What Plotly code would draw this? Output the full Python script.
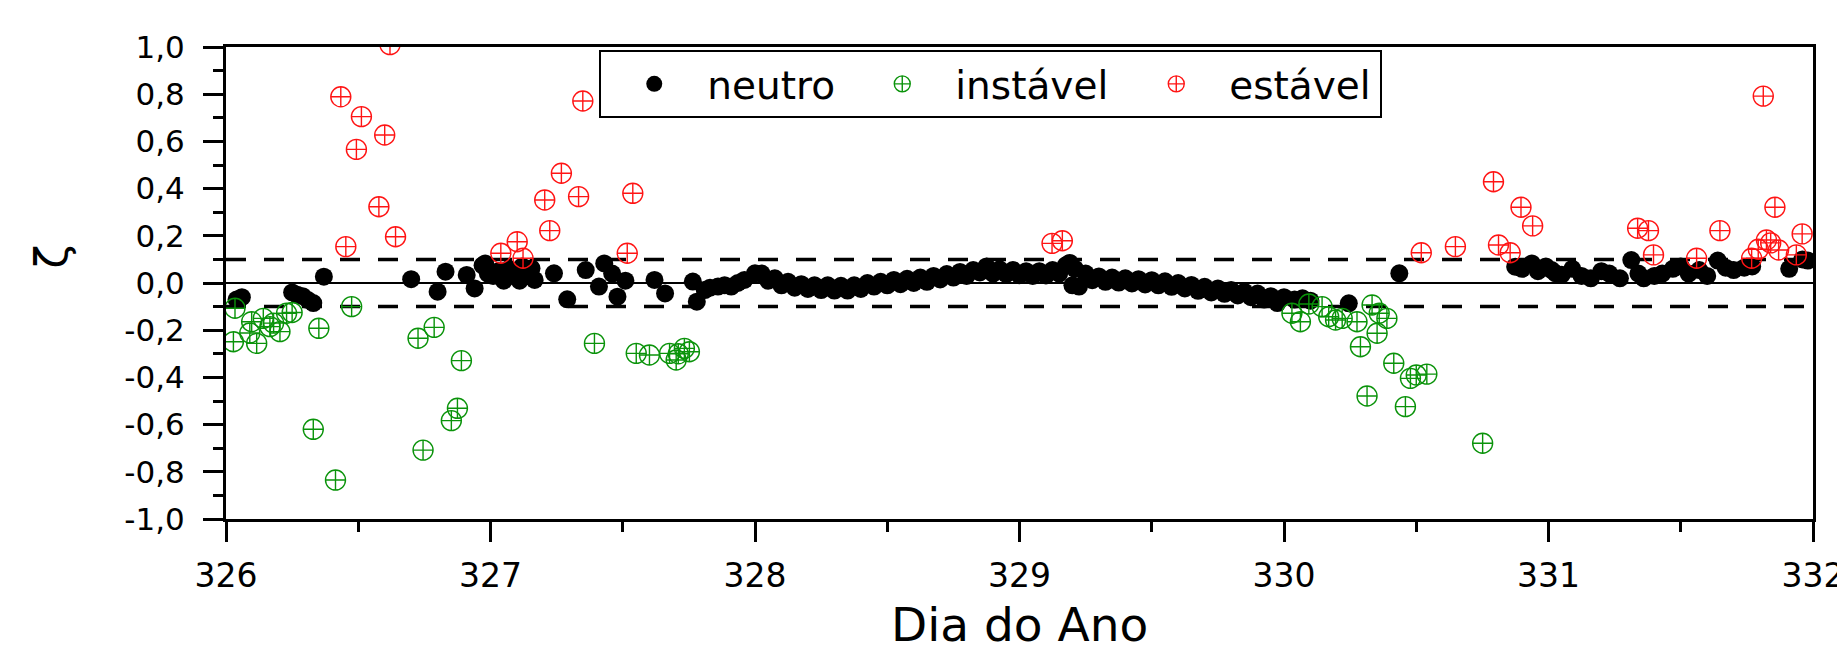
import plotly.graph_objects as go

# ---------------- data ----------------
neutro_x = [
    326.04, 326.06, 326.25, 326.27, 326.29, 326.31, 326.33, 326.37, 326.70, 326.80,
    326.83, 326.91, 326.94, 326.97, 326.98, 326.99, 327.01, 327.03, 327.05, 327.07,
    327.09, 327.11, 327.12, 327.14, 327.155, 327.167, 327.24, 327.29, 327.36, 327.41,
    327.43, 327.46, 327.48, 327.51, 327.62, 327.66, 327.765, 327.78, 327.81, 327.83,
    327.86, 327.885, 327.91, 327.935, 327.96, 328.00,
    328.025, 328.05, 328.075, 328.10, 328.125, 328.15, 328.175, 328.20, 328.225, 328.25,
    328.275, 328.30, 328.325, 328.35, 328.375, 328.40, 328.425, 328.45, 328.475, 328.50,
    328.525, 328.55, 328.575, 328.60, 328.625, 328.65, 328.675, 328.70, 328.725, 328.75,
    328.775, 328.80, 328.825, 328.85, 328.875, 328.90, 328.925, 328.95, 328.975, 329.00,
    329.025, 329.05, 329.075, 329.10, 329.125, 329.15, 329.175, 329.19, 329.20, 329.21,
    329.225, 329.25, 329.275, 329.30, 329.325, 329.35, 329.375, 329.40, 329.425, 329.45,
    329.475, 329.50, 329.525, 329.55, 329.575, 329.60, 329.625, 329.65, 329.675, 329.70,
    329.725, 329.75, 329.775, 329.80, 329.825, 329.85, 329.875, 329.90, 329.925, 329.95,
    329.975, 330.00,
    330.04, 330.07, 330.10, 330.245, 330.436, 330.874, 330.90, 330.937, 330.96, 330.99,
    331.012, 331.027, 331.05, 331.09, 331.125, 331.16, 331.20, 331.23, 331.27, 331.313,
    331.34, 331.36, 331.40, 331.43, 331.47, 331.50, 331.53, 331.57, 331.60, 331.64,
    331.67, 331.70, 331.74, 331.77, 331.91, 331.96, 331.98,
]
neutro_y = [
    -0.07, -0.06, -0.04, -0.05, -0.056, -0.072, -0.085, 0.027, 0.016, -0.037,
    0.048, 0.034, -0.023, 0.075, 0.083, 0.04, 0.03, 0.05, 0.01, 0.06,
    0.03, 0.01, 0.07, 0.03, 0.062, 0.013, 0.041, -0.069, 0.055, -0.015,
    0.083, 0.04, -0.058, 0.01, 0.013, -0.044, 0.006, -0.079, -0.03, -0.02,
    -0.015, -0.01, -0.015, 0.0, 0.013, 0.041,
    0.04, 0.01, 0.02, -0.01, 0.005, -0.02, -0.005, -0.025, -0.01, -0.03,
    -0.01, -0.032, -0.012, -0.032, -0.01, -0.025, 0.0, -0.015, 0.005, -0.01,
    0.013, -0.005, 0.018, 0.0, 0.023, 0.005, 0.03, 0.015, 0.038, 0.023,
    0.047, 0.03, 0.055, 0.045, 0.07, 0.04, 0.058, 0.038, 0.055, 0.033,
    0.05, 0.03, 0.05, 0.032, 0.055, 0.04, 0.075, 0.085, -0.01, 0.06,
    -0.015, 0.04, 0.012, 0.028, 0.005, 0.023, 0.002, 0.02, -0.002, 0.016,
    -0.006, 0.012, -0.01, 0.007, -0.016, 0.0, -0.023, -0.008, -0.033, -0.016,
    -0.04, -0.023, -0.046, -0.03, -0.053, -0.037, -0.06, -0.045, -0.07, -0.056,
    -0.085, -0.06,
    -0.07, -0.065, -0.075, -0.086, 0.041, 0.069, 0.06, 0.083, 0.05, 0.07,
    0.055, 0.041, 0.035, 0.06, 0.03, 0.02, 0.05, 0.04, 0.02, 0.097,
    0.04, 0.02, 0.03, 0.04, 0.06, 0.07, 0.04, 0.055, 0.03, 0.095,
    0.065, 0.055, 0.065, 0.07, 0.06, 0.10, 0.095,
]

instavel_x = [
    326.028, 326.034, 326.09, 326.097, 326.116, 326.141, 326.166, 326.18, 326.204, 326.229,
    326.25, 326.330, 326.351, 326.414, 326.475, 326.726, 326.745, 326.787, 326.852, 326.875,
    326.890, 327.393, 327.551, 327.601, 327.677, 327.702, 327.71, 327.733, 327.752,
    330.030, 330.062, 330.094, 330.144, 330.169, 330.195, 330.22, 330.276, 330.289, 330.314,
    330.333, 330.352, 330.36, 330.389, 330.415, 330.459, 330.478, 330.50, 330.540, 330.751,
]
instavel_y = [
    -0.249, -0.107, -0.212, -0.164, -0.256, -0.150, -0.185, -0.17, -0.206, -0.128,
    -0.125, -0.620, -0.192, -0.835, -0.100, -0.234, -0.708, -0.188, -0.583, -0.531,
    -0.329, -0.256, -0.298, -0.305, -0.298, -0.326, -0.30, -0.277, -0.291,
    -0.128, -0.164, -0.089, -0.100, -0.143, -0.157, -0.15, -0.164, -0.270, -0.479,
    -0.093, -0.213, -0.128, -0.150, -0.340, -0.524, -0.404, -0.39, -0.386, -0.679,
]

estavel_x = [
    326.434, 326.453, 326.493, 326.512, 326.578, 326.600, 326.62, 326.641,
    327.039, 327.101, 327.123, 327.205, 327.224, 327.268, 327.333, 327.349, 327.517, 327.538,
    329.123, 329.162,
    330.519, 330.648, 330.792, 330.811, 330.855, 330.896, 330.940,
    331.337, 331.378, 331.397, 331.560, 331.648, 331.768, 331.793, 331.812, 331.824, 331.84,
    331.856, 331.87, 331.937, 331.959,
]
estavel_y = [
    0.789, 0.154, 0.566, 0.705, 0.323, 0.627, 1.01, 0.196,
    0.126, 0.175, 0.105, 0.352, 0.222, 0.465, 0.366, 0.771, 0.126, 0.380,
    0.168, 0.179,
    0.128, 0.154, 0.429, 0.161, 0.128, 0.321, 0.242,
    0.232, 0.222, 0.119, 0.105, 0.222, 0.105, 0.143, 0.792, 0.182, 0.17,
    0.321, 0.14, 0.119, 0.208,
]

limites = [0.1, -0.1]          # dashed threshold lines
zero_line = [0.0]

y_tickvals = [1.0, 0.8, 0.6, 0.4, 0.2, 0.0, -0.2, -0.4, -0.6, -0.8, -1.0]
y_ticktext = ["1,0", "0,8", "0,6", "0,4", "0,2", "0,0", "-0,2", "-0,4", "-0,6", "-0,8", "-1,0"]
x_tickvals = [326, 327, 328, 329, 330, 331, 332]
x_ticktext = ["326", "327", "328", "329", "330", "331", "332"]

FONT = "DejaVu Sans, Verdana, sans-serif"
GREEN = "#0a930a"
RED = "#ff1414"

fig = go.Figure()

fig.add_trace(go.Scatter(
    x=neutro_x, y=neutro_y, mode="markers", name="neutro", legendwidth=137,
    marker=dict(symbol="circle", size=18, color="black", line=dict(width=0)),
))
fig.add_trace(go.Scatter(
    x=instavel_x, y=instavel_y, mode="markers", name="instável", legendwidth=163,
    marker=dict(symbol="circle-cross-open", size=20, color=GREEN, line=dict(width=1.4, color=GREEN)),
))
fig.add_trace(go.Scatter(
    x=estavel_x, y=estavel_y, mode="markers", name="estável", legendwidth=146,
    marker=dict(symbol="circle-cross-open", size=20, color=RED, line=dict(width=1.4, color=RED)),
))

for yv in limites:
    fig.add_hline(y=yv, layer="below", line=dict(color="black", width=3.5, dash="20px,18px"))
for yv in zero_line:
    fig.add_hline(y=yv, layer="below", line=dict(color="black", width=2.2))

axis_common = dict(
    showline=True, linecolor="black", linewidth=3, mirror=True,
    ticks="outside", ticklen=20, tickwidth=3, tickcolor="black",
    showgrid=False, zeroline=False,
)

fig.update_xaxes(
    range=[326, 332], tickvals=x_tickvals, ticktext=x_ticktext,
    minor=dict(dtick=0.5, tick0=326, ticks="outside", ticklen=10, tickwidth=3, tickcolor="black", showgrid=False),
    tickfont=dict(family=FONT, size=33, color="black"),
    ticklabelstandoff=5, ticklabeloverflow="allow",
    **axis_common,
)
fig.update_yaxes(
    range=[-1, 1], tickvals=y_tickvals, ticktext=y_ticktext,
    minor=dict(dtick=0.1, tick0=0, ticks="outside", ticklen=10, tickwidth=3, tickcolor="black", showgrid=False),
    tickfont=dict(family=FONT, size=31, color="black"),
    ticklabelstandoff=12,
    **axis_common,
)

# axis titles
fig.add_annotation(
    text="Dia do Ano", xref="paper", yref="paper", x=0.5, y=-0.286,
    showarrow=False, xanchor="center", yanchor="bottom",
    font=dict(family=FONT, size=47, color="black"),
)
fig.add_annotation(
    text="ζ", xref="paper", yref="paper", x=-0.110, y=0.557,
    showarrow=False, textangle=-90, xanchor="center", yanchor="middle",
    font=dict(family=FONT, size=44, color="black"),
)

# the page body has an 8 px margin, so the figure is made 8 px smaller
fig.update_layout(
    width=1837, height=647,
    margin=dict(l=218, r=32, t=39, b=136, autoexpand=False),
    paper_bgcolor="white", plot_bgcolor="white",
    font=dict(family=FONT, color="black"),
    showlegend=True,
    legend=dict(
        orientation="h", x=0.2352, y=0.9936, xanchor="left", yanchor="top",
        bgcolor="white", bordercolor="black", borderwidth=2,
        font=dict(family=FONT, size=39, color="black"),
        itemwidth=96,
    ),
)

fig.write_html("out.html")
